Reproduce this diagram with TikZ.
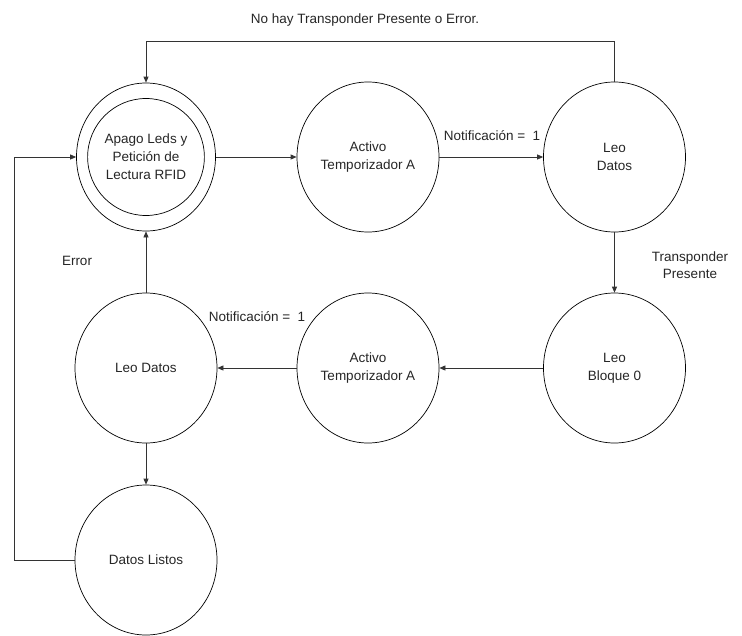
\documentclass[tikz,border=0pt]{standalone}
\usepackage{fontspec}
\setmainfont{Liberation Sans}
\usetikzlibrary{shapes.geometric,arrows.meta}
\tikzset{
  state/.style={ellipse, draw=black, line width=0.7pt, minimum width=142pt, minimum height=150pt,
    inner sep=0pt, align=center, text=black!85, font=\fontsize{13.5}{18}\selectfont},
  inner/.style={ellipse, draw=black, line width=0.7pt, minimum width=112pt, minimum height=117pt,
    inner sep=0pt, align=center, text=black!85, font=\fontsize{13.5}{18}\selectfont},
  lbl/.style={inner sep=0pt, align=center, text=black!85, font=\fontsize{13.5}{17}\selectfont},
  arr/.style={draw=black!80, line width=0.7pt, -{Triangle[length=6pt,width=5pt]}},
  ln/.style={draw=black!80, line width=0.7pt}
}
\begin{document}
\begin{tikzpicture}[x=1pt,y=-1pt]
\useasboundingbox (0,0) rectangle (742,635);
% states
\node[state, minimum width=139pt, minimum height=148pt] (s0) at (146,157) {};
\node[inner] (s0in) at (146,157) {Apago Leds y\\Petición de\\Lectura RFID};
\node[state] (t1) at (368,157) {Activo\\Temporizador A};
\node[state] (d1) at (614.5,157) {Leo\\Datos};
\node[state] (b0) at (614.5,368) {Leo\\Bloque 0};
\node[state] (t2) at (368,368) {Activo\\Temporizador A};
\node[state] (d2) at (146,368) {Leo Datos};
\node[state] (ok) at (146,560) {Datos Listos};
% routing points
\coordinate (top) at (0,41);
\coordinate (left) at (14,0);
% transitions
\draw[arr] (s0.east) -- (t1.west);
\draw[arr] (t1.east) -- (d1.west);
\draw[arr] (d1.south) -- (b0.north);
\draw[arr] (b0.west) -- (t2.east);
\draw[arr] (t2.west) -- (d2.east);
\draw[arr] (d2.north) -- (s0.south);
\draw[arr] (d2.south) -- (ok.north);
\draw[arr] (d1.north) -- (d1.north |- top) -| (s0.north);
\draw[arr] (ok.west) -- (ok.west -| left) |- (s0.west);
% labels
\node[lbl] (lTop) at (365,20) {No hay Transponder Presente o Error.};
\node[lbl] (lN1) at (492,136) {Notificación =\ \ 1};
\node[lbl] (lTP) at (690,265) {Transponder\\Presente};
\node[lbl] (lN2) at (257,317) {Notificación =\ \ 1};
\node[lbl] (lErr) at (77,261) {Error};
\end{tikzpicture}
\end{document}
